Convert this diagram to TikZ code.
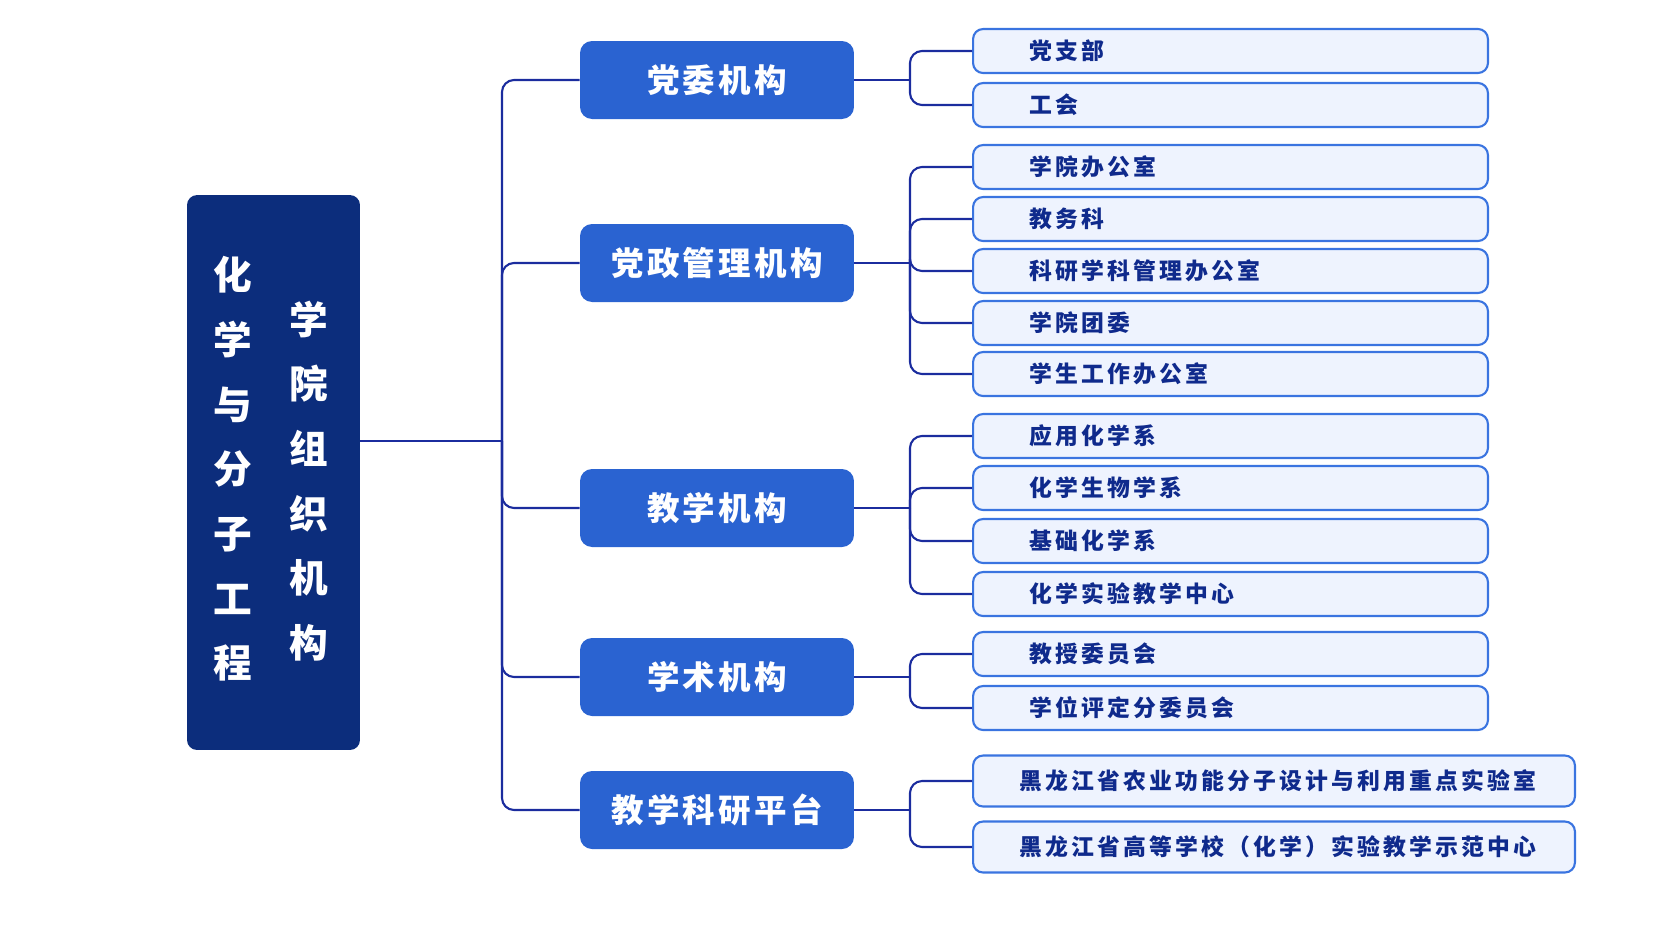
\documentclass[tikz,border=0pt]{standalone}
\usepackage{fontspec}
\usepackage{tikz}

\newfontfamily\cjkroot{Noto Sans CJK SC}
\newfontfamily\cjkwide[LetterSpace=10]{Noto Sans CJK SC}
\newfontfamily\cjkleaf[LetterSpace=14]{Noto Sans CJK SC}

\definecolor{rootnavy}{HTML}{0C2D7C}
\definecolor{catblue}{HTML}{2A63D1}
\definecolor{leaffill}{HTML}{EEF3FE}
\definecolor{leafline}{HTML}{3A74E0}
\definecolor{leaftext}{HTML}{0F2A8C}
\definecolor{linkblue}{HTML}{1B2C9E}

\tikzset{
  rootbox/.style={fill=rootnavy, rounded corners=0.2cm, minimum width=3.46cm, minimum height=11.1cm},
  rootcol/.style={align=center, text=white, font=\cjkroot\bfseries\fontsize{22}{36.8}\selectfont},
  catbox/.style={fill=catblue, rounded corners=0.24cm, minimum width=5.48cm, minimum height=1.56cm, text=white, font=\cjkwide\bfseries\fontsize{18.5}{18.5}\selectfont},
  leafbox/.style={draw=leafline, line width=1.2pt, fill=leaffill, rounded corners=0.2cm, anchor=west, minimum height=0.88cm, inner xsep=1.12cm, text width=8.06cm, align=left, text=leaftext, font=\cjkleaf\bfseries\fontsize{13}{13}\selectfont},
  longleaf/.style={leafbox, minimum height=1.02cm, inner xsep=0.92cm, text width=10.2cm},
  link/.style={draw=linkblue, line width=1.2pt, rounded corners=0.24cm}
}

\begin{document}
\begin{tikzpicture}[x=0.02cm, y=-0.02cm]
    \useasboundingbox (0,0) rectangle (1672,941);

    % Draw root box and its two text columns
    \node[rootbox] (root) at (273.5,472.5) {};
    \node[rootcol] (rootleft) at (233,469) {化\\学\\与\\分\\子\\工\\程};
    \node[rootcol] (rootright) at (309,481) {学\\院\\组\\织\\机\\构};

    % Draw category boxes
    \node[catbox] (dangwei) at (717,80) {党委机构};
    \node[catbox] (dangzheng) at (717,263) {党政管理机构};
    \node[catbox] (jiaoxue) at (717,508) {教学机构};
    \node[catbox] (xueshu) at (717,677) {学术机构};
    \node[catbox] (pingtai) at (717,810) {教学科研平台};

    % Draw leaf boxes
    \node[leafbox] (dzb) at (972,51) {党支部};
    \node[leafbox] (gh) at (972,105) {工会};

    \node[leafbox] (xybgs) at (972,167) {学院办公室};
    \node[leafbox] (jwk) at (972,219) {教务科};
    \node[leafbox] (kybgs) at (972,271) {科研学科管理办公室};
    \node[leafbox] (tw) at (972,323) {学院团委};
    \node[leafbox] (xgbgs) at (972,374) {学生工作办公室};

    \node[leafbox] (yyhx) at (972,436) {应用化学系};
    \node[leafbox] (hxsw) at (972,488) {化学生物学系};
    \node[leafbox] (jchx) at (972,541) {基础化学系};
    \node[leafbox] (syzx) at (972,594) {化学实验教学中心};

    \node[leafbox] (jswyh) at (972,654) {教授委员会};
    \node[leafbox] (xwwyh) at (972,708) {学位评定分委员会};

    \node[longleaf] (zdsys) at (972,781) {黑龙江省农业功能分子设计与利用重点实验室};
    \node[longleaf] (sfzx) at (972,847) {黑龙江省高等学校（化学）实验教学示范中心};

    % Draw trunk from root to categories
    \coordinate (trunk) at (502,441);
    \draw[link] (root.east |- trunk) -- (trunk);
    \draw[link] (trunk) |- (dangwei.west);
    \draw[link] (trunk) |- (dangzheng.west);
    \draw[link] (trunk) |- (jiaoxue.west);
    \draw[link] (trunk) |- (xueshu.west);
    \draw[link] (trunk) |- (pingtai.west);

    % Draw branches from categories to leaves
    \coordinate (dangwei-j) at (910,80);
    \draw[link] (dangwei.east) -- (dangwei-j);
    \draw[link] (dangwei-j) |- (dzb.west);
    \draw[link] (dangwei-j) |- (gh.west);

    \coordinate (dangzheng-j) at (910,263);
    \draw[link] (dangzheng.east) -- (dangzheng-j);
    \draw[link] (dangzheng-j) |- (xybgs.west);
    \draw[link] (dangzheng-j) |- (jwk.west);
    \draw[link] (dangzheng-j) |- (kybgs.west);
    \draw[link] (dangzheng-j) |- (tw.west);
    \draw[link] (dangzheng-j) |- (xgbgs.west);

    \coordinate (jiaoxue-j) at (910,508);
    \draw[link] (jiaoxue.east) -- (jiaoxue-j);
    \draw[link] (jiaoxue-j) |- (yyhx.west);
    \draw[link] (jiaoxue-j) |- (hxsw.west);
    \draw[link] (jiaoxue-j) |- (jchx.west);
    \draw[link] (jiaoxue-j) |- (syzx.west);

    \coordinate (xueshu-j) at (910,677);
    \draw[link] (xueshu.east) -- (xueshu-j);
    \draw[link] (xueshu-j) |- (jswyh.west);
    \draw[link] (xueshu-j) |- (xwwyh.west);

    \coordinate (pingtai-j) at (910,810);
    \draw[link] (pingtai.east) -- (pingtai-j);
    \draw[link] (pingtai-j) |- (zdsys.west);
    \draw[link] (pingtai-j) |- (sfzx.west);
\end{tikzpicture}
\end{document}
